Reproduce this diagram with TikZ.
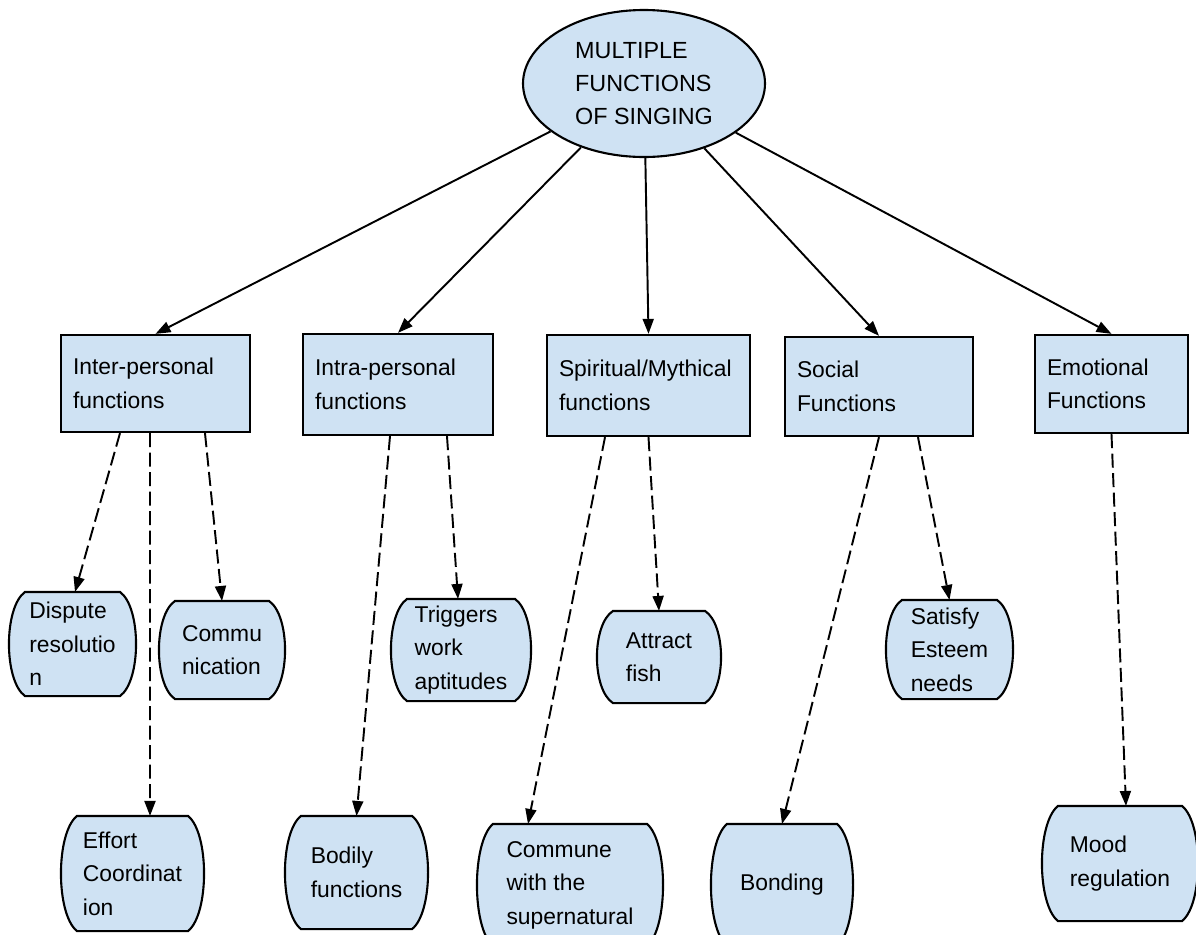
\documentclass[tikz,border=0pt]{standalone}
\usepackage{fontspec}
\setmainfont{Liberation Sans}
\usepackage{tikz}
\usetikzlibrary{shapes.geometric}
\usetikzlibrary{arrows.meta}

\definecolor{boxblue}{HTML}{CFE2F3}

% leaf shape: flat top and bottom, sides bowed outwards
\newdimen\bxl \newdimen\bxr \newdimen\byb \newdimen\byt \newdimen\bin \newdimen\bdy
\makeatletter
\pgfdeclareshape{barrel}{
    \inheritsavedanchors[from=rectangle]
    \inheritanchorborder[from=rectangle]
    \inheritanchor[from=rectangle]{center}
    \inheritanchor[from=rectangle]{north}
    \inheritanchor[from=rectangle]{south}
    \inheritanchor[from=rectangle]{east}
    \inheritanchor[from=rectangle]{west}
    \inheritanchor[from=rectangle]{base}
    \inheritanchor[from=rectangle]{text}
    \backgroundpath{
        \southwest \global\bxl=\pgf@x \global\byb=\pgf@y
        \northeast \global\bxr=\pgf@x \global\byt=\pgf@y
        \global\bin=0.32cm
        \global\bdy=\byt \global\advance\bdy by -\byb
        \global\bdy=0.15\bdy
        \pgfpathmoveto{\pgfqpoint{\dimexpr\bxl+\bin\relax}{\byt}}
        \pgfpathlineto{\pgfqpoint{\dimexpr\bxr-\bin\relax}{\byt}}
        \pgfpathcurveto{\pgfqpoint{\dimexpr\bxr+\bin/3\relax}{\dimexpr\byt-\bdy\relax}}
            {\pgfqpoint{\dimexpr\bxr+\bin/3\relax}{\dimexpr\byb+\bdy\relax}}
            {\pgfqpoint{\dimexpr\bxr-\bin\relax}{\byb}}
        \pgfpathlineto{\pgfqpoint{\dimexpr\bxl+\bin\relax}{\byb}}
        \pgfpathcurveto{\pgfqpoint{\dimexpr\bxl-\bin/3\relax}{\dimexpr\byb+\bdy\relax}}
            {\pgfqpoint{\dimexpr\bxl-\bin/3\relax}{\dimexpr\byt-\bdy\relax}}
            {\pgfqpoint{\dimexpr\bxl+\bin\relax}{\byt}}
        \pgfpathclose
    }
}
\makeatother

\tikzset{
    topnode/.style={ellipse, draw, fill=boxblue, line width=1.2pt,
        align=left, inner sep=0pt, font=\fontsize{13.3}{19}\selectfont},
    groupbox/.style={rectangle, draw, fill=boxblue, line width=1.3pt,
        align=left, inner xsep=0.24cm, inner ysep=0pt,
        font=\fontsize{13}{19}\selectfont},
    leafbox/.style={barrel, draw, fill=boxblue, line width=1.2pt,
        align=left, inner sep=0pt, font=\fontsize{13}{19}\selectfont},
    mainarrow/.style={-{Triangle[length=0.3cm,width=0.22cm]}, line width=1.1pt},
    subarrow/.style={mainarrow, dash pattern=on 0.28cm off 0.11cm}
}

\begin{document}
\begin{tikzpicture}

    \useasboundingbox (0,0) rectangle (23.92,-18.7);

    % root
    \node[topnode, minimum width=4.84cm, minimum height=2.94cm] (top) at (12.88,-1.67)
        {MULTIPLE\\FUNCTIONS\\OF SINGING};

    % groups
    \node[groupbox, text width=3.30cm, minimum height=1.94cm] (inter) at (3.11,-7.67)
        {Inter-personal\\functions};

    \node[groupbox, text width=3.32cm, minimum height=2.02cm] (intra) at (7.96,-7.69)
        {Intra-personal\\functions};

    \node[groupbox, text width=3.58cm, minimum height=2.02cm] (spirit) at (12.97,-7.71)
        {Spiritual/Mythical\\functions};

    \node[groupbox, text width=3.28cm, minimum height=1.98cm] (social) at (17.58,-7.73)
        {Social\\Functions};

    \node[groupbox, text width=2.58cm, minimum height=1.96cm] (emot) at (22.23,-7.68)
        {Emotional\\Functions};

    % leaves
    \node[leafbox, minimum width=2.50cm, minimum height=2.04cm] (dispute) at (1.45,-12.88)
        {Dispute\\resolutio\\n};

    \node[leafbox, minimum width=2.48cm, minimum height=1.92cm] (commu) at (4.44,-13.00)
        {Commu\\nication};

    \node[leafbox, minimum width=2.82cm, minimum height=2.26cm] (effort) at (2.65,-17.47)
        {Effort\\Coordinat\\ion};

    \node[leafbox, minimum width=2.76cm, minimum height=2.00cm] (triggers) at (9.22,-13.00)
        {Triggers\\work\\aptitudes};

    \node[leafbox, minimum width=2.82cm, minimum height=2.22cm] (bodily) at (7.13,-17.45)
        {Bodily\\functions};

    \node[leafbox, minimum width=2.44cm, minimum height=1.80cm] (attract) at (13.18,-13.14)
        {Attract\\fish};

    \node[leafbox, minimum width=3.68cm, minimum height=2.40cm] (commune) at (11.40,-17.70)
        {Commune\\with the\\supernatural};

    \node[leafbox, minimum width=2.50cm, minimum height=1.94cm] (satisfy) at (18.99,-12.99)
        {Satisfy\\Esteem\\needs};

    \node[leafbox, minimum width=2.80cm, minimum height=2.40cm] (bonding) at (15.64,-17.70)
        {Bonding};

    \node[leafbox, minimum width=3.08cm, minimum height=2.26cm] (mood) at (22.40,-17.27)
        {Mood\\regulation};

    % root to groups
    \draw[mainarrow] (top) -- (inter.north);
    \draw[mainarrow] (top) -- (intra.north);
    \draw[mainarrow] (top) -- (spirit.north);
    \draw[mainarrow] (top) -- (social.north);
    \draw[mainarrow] (top) -- (emot.north);

    % groups to leaves
    \draw[subarrow] ([xshift=-0.71cm]inter.south) -- ([xshift=0.05cm]dispute.north);
    \draw[subarrow] ([xshift=-0.11cm]inter.south) -- ([xshift=0.35cm]effort.north);
    \draw[subarrow] ([xshift=0.99cm]inter.south) -- (commu.north);

    \draw[subarrow] ([xshift=-0.16cm]intra.south) -- (bodily.north);
    \draw[subarrow] ([xshift=0.98cm]intra.south) -- ([xshift=-0.06cm]triggers.north);

    \draw[subarrow] ([xshift=-0.87cm]spirit.south) -- ([xshift=-0.84cm]commune.north);
    \draw[subarrow] (spirit.south) -- (attract.north);

    \draw[subarrow] (social.south) -- (bonding.north);
    \draw[subarrow] ([xshift=0.78cm]social.south) -- (satisfy.north);

    \draw[subarrow] (emot.south) -- ([xshift=0.12cm]mood.north);

\end{tikzpicture}
\end{document}
